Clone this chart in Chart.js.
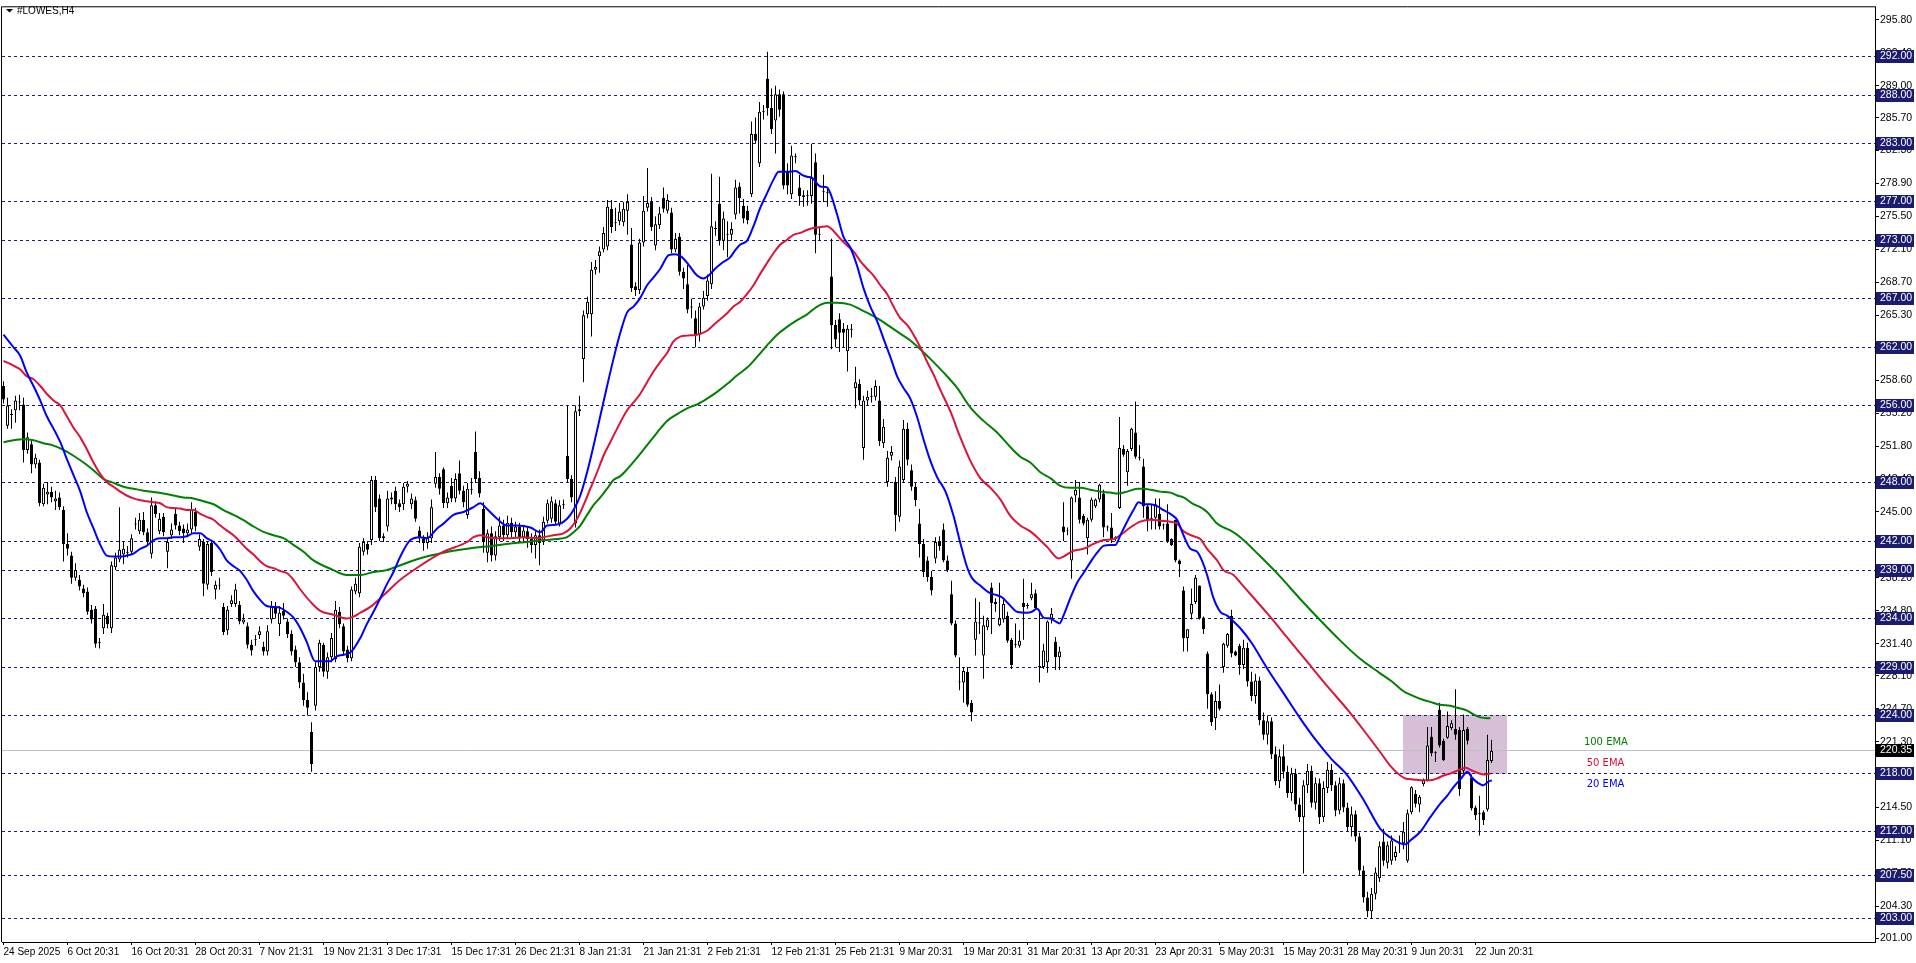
<!DOCTYPE html>
<html>
<head>
<meta charset="utf-8">
<title>#LOWES,H4</title>
<script src="https://cdn.jsdelivr.net/npm/chart.js@4/dist/chart.umd.min.js"></script>
<style>
  html, body { margin: 0; padding: 0; background: #fff; }
  canvas { display: block; }
</style>
</head>
<body>
<canvas id="chart" width="1916" height="963"></canvas>
<script>
'use strict';

// ---- data -----------------------------------------------------------------

const symbolTitle = '#LOWES,H4';

// time axis: one label every 16 H4 bars
const dateTickBars = [ 0, 16, 32, 48, 64, 80, 96, 112, 128, 144, 160, 176, 192, 208, 224, 240, 256, 272, 288, 304, 320, 336, 352, 368 ];
const dateTickLabels = [ '24 Sep 2025', '6 Oct 20:31', '16 Oct 20:31', '28 Oct 20:31', '7 Nov 21:31', '19 Nov 21:31', '3 Dec 17:31',
	'15 Dec 17:31', '26 Dec 21:31', '8 Jan 21:31', '21 Jan 21:31', '2 Feb 21:31', '12 Feb 21:31', '25 Feb 21:31', '9 Mar 20:31',
	'19 Mar 20:31', '31 Mar 20:31', '13 Apr 20:31', '23 Apr 20:31', '5 May 20:31', '15 May 20:31', '28 May 20:31', '9 Jun 20:31', '22 Jun 20:31' ];

// price axis labels
const priceTicks = [ 295.80, 292.40, 289.00, 285.70, 282.30, 278.90, 275.50, 272.10, 268.70, 265.30, 261.90, 258.60, 255.20, 251.80,
	248.40, 245.00, 241.60, 238.20, 234.80, 231.40, 228.10, 224.70, 221.30, 217.90, 214.50, 211.10, 207.70, 204.30, 201.00 ];

// dashed horizontal levels
const levelPrices = [ 292, 288, 283, 277, 273, 267, 262, 256, 248, 242, 239, 234, 229, 224, 218, 212, 207.5, 203 ];
const lastPrice = 220.35;

// OHLC, bar 0 .. 372
const opens = [
	258.0, 253.9, 255.0, 255.5, 256.3, 256.1, 251.4, 252.0, 249.9, 250.1, // 0
	245.8, 246.8, 247.1, 246.1, 246.5, 245.2, 241.7, 240.5, 238.2, 238.0,
	237.1, 236.8, 234.9, 235.0, 231.5, 233.0, 234.3, 233.0, 239.3, 240.1,
	240.6, 240.8, 240.9, 243.7, 243.0, 244.2, 242.9, 240.7, 245.7, 243.0,
	244.5, 240.9, 242.6, 244.8, 243.6, 243.3, 242.8, 243.2, 245.0, 241.4,
	241.9, 237.5, 241.8, 237.0, 237.4, 235.2, 232.8, 235.5, 235.5, 235.4, // 50
	233.6, 233.2, 231.3, 231.8, 232.3, 231.1, 230.6, 233.9, 235.2, 233.4,
	234.8, 233.7, 232.4, 230.8, 229.5, 227.4, 225.6, 222.3, 225.0, 229.0,
	231.3, 228.5, 230.0, 229.8, 234.7, 233.2, 230.8, 229.9, 236.8, 236.6,
	240.9, 241.7, 242.1, 248.3, 246.4, 242.5, 243.5, 246.3, 247.2, 245.9,
	245.8, 247.6, 245.8, 246.2, 243.1, 242.3, 241.8, 242.3, 247.9, 248.6, // 100
	249.4, 245.9, 247.7, 246.4, 249.0, 247.2, 244.7, 247.3, 251.2, 248.5,
	245.3, 240.8, 242.8, 240.5, 242.4, 243.6, 242.6, 243.9, 242.9, 243.5,
	242.4, 243.0, 242.2, 241.6, 242.6, 242.1, 244.1, 244.3, 245.9, 243.8,
	245.7, 250.8, 248.4, 243.8, 255.4, 260.8, 265.4, 265.4, 270.0, 271.4,
	272.1, 272.4, 276.3, 274.8, 275.0, 274.9, 276.1, 272.6, 268.3, 267.9, // 150
	272.8, 276.4, 277.0, 272.5, 274.6, 277.4, 276.1, 275.9, 272.1, 273.4,
	269.8, 268.5, 266.2, 265.0, 263.3, 266.2, 267.3, 268.5, 274.2, 276.8,
	273.0, 273.6, 273.6, 275.7, 278.6, 276.6, 276.1, 277.8, 284.0, 281.0,
	286.3, 289.7, 286.7, 285.4, 288.1, 288.1, 280.2, 277.8, 281.6, 278.5,
	277.7, 277.6, 277.6, 281.1, 273.6, 278.0, 278.0, 269.3, 264.3, 264.9, // 200
	263.9, 261.6, 263.9, 257.8, 258.2, 251.6, 256.5, 256.9, 256.9, 256.5,
	252.1, 248.1, 250.8, 248.1, 244.5, 248.3, 253.6, 249.3, 247.6, 243.8,
	241.7, 240.0, 238.3, 240.2, 242.0, 243.2, 240.0, 236.5, 233.5, 227.5,
	227.4, 228.5, 225.3, 231.8, 233.5, 230.2, 233.1, 237.2, 235.7, 233.3,
	233.9, 234.3, 231.8, 231.3, 231.2, 235.6, 235.3, 236.1, 236.6, 229.1, // 250
	229.0, 229.5, 234.0, 231.6, 230.0, 243.5, 243.0, 240.0, 246.7, 246.5,
	244.6, 242.3, 244.2, 245.6, 246.3, 246.9, 243.5, 243.4, 242.3, 245.4,
	251.5, 249.1, 251.5, 253.2, 250.7, 249.7, 245.6, 244.4, 244.4, 244.8,
	243.7, 243.8, 242.2, 244.2, 240.0, 236.9, 232.0, 234.5, 235.7, 237.4,
	234.1, 230.4, 226.2, 223.7, 225.5, 229.0, 231.2, 234.3, 230.6, 231.2, // 300
	229.2, 231.0, 227.5, 226.0, 227.6, 223.5, 222.0, 223.4, 220.0, 217.2,
	219.8, 218.2, 216.0, 218.0, 214.8, 213.5, 216.8, 218.3, 215.0, 217.0,
	213.5, 216.5, 218.4, 216.8, 214.2, 217.0, 214.5, 212.5, 213.8, 211.5,
	208.0, 205.2, 203.8, 205.6, 207.2, 211.0, 208.8, 209.0, 209.4, 210.7,
	210.8, 209.0, 214.0, 215.9, 214.8, 216.9, 217.3, 221.8, 220.2, 224.6, // 350
	221.4, 221.7, 222.7, 222.6, 222.5, 218.3, 222.6, 217.6, 214.5, 213.8,
	214.0, 214.3, 219.3
];
const highs = [
	258.5, 256.8, 255.6, 257.0, 257.1, 256.8, 253.2, 252.4, 251.0, 250.4, // 0
	247.9, 248.1, 247.6, 247.2, 247.0, 245.6, 242.8, 240.9, 239.7, 238.5,
	237.5, 237.2, 235.4, 235.3, 232.0, 235.5, 234.6, 239.9, 240.8, 245.5,
	242.0, 241.5, 242.7, 244.4, 244.9, 245.0, 243.3, 246.5, 246.1, 244.9,
	244.9, 242.3, 243.8, 245.3, 244.0, 243.7, 243.8, 246.0, 245.4, 242.7,
	242.2, 242.0, 242.1, 237.9, 238.2, 235.6, 235.3, 236.4, 237.6, 235.8, // 50
	234.5, 233.6, 231.8, 232.3, 233.2, 231.6, 233.3, 235.8, 235.7, 235.3,
	235.6, 234.0, 232.8, 231.2, 230.0, 228.3, 226.4, 223.3, 229.5, 231.8,
	231.5, 230.5, 232.5, 235.8, 235.2, 233.5, 231.2, 237.3, 238.2, 241.8,
	242.3, 242.0, 248.7, 248.7, 246.8, 242.8, 247.2, 247.0, 247.6, 246.3,
	248.0, 248.2, 246.9, 246.6, 243.5, 242.6, 242.9, 246.3, 251.2, 249.0, // 100
	249.6, 247.0, 248.5, 249.0, 250.3, 247.7, 248.0, 248.5, 253.3, 249.2,
	246.0, 243.2, 243.5, 243.0, 244.5, 244.2, 244.6, 244.4, 244.0, 243.9,
	243.6, 243.4, 242.8, 243.0, 243.2, 244.5, 246.3, 246.6, 246.3, 246.2,
	246.3, 256.0, 248.8, 256.0, 257.0, 265.8, 267.2, 270.8, 271.0, 272.4,
	274.4, 277.2, 277.2, 276.4, 276.9, 277.0, 277.8, 274.3, 268.7, 273.2, // 150
	277.6, 280.5, 277.5, 275.5, 276.5, 278.5, 277.8, 276.4, 273.8, 273.8,
	270.2, 270.5, 267.0, 265.8, 266.6, 267.8, 269.5, 279.9, 275.0, 279.6,
	276.0, 275.0, 274.9, 279.3, 279.0, 277.3, 276.6, 285.3, 285.7, 287.3,
	287.0, 292.5, 288.7, 289.0, 288.6, 288.4, 281.0, 282.8, 282.0, 279.8,
	278.2, 278.2, 283.0, 282.0, 274.3, 279.8, 278.5, 273.2, 264.8, 265.5, // 200
	264.5, 264.3, 264.4, 260.0, 258.7, 257.0, 257.5, 257.8, 258.6, 258.0,
	254.6, 251.3, 251.8, 248.6, 250.3, 254.5, 254.2, 249.9, 248.0, 245.3,
	242.2, 240.4, 238.9, 242.4, 242.5, 243.8, 240.5, 237.9, 233.8, 230.0,
	229.0, 229.0, 225.6, 236.1, 235.7, 234.3, 234.1, 237.7, 236.1, 237.7,
	236.0, 234.7, 232.0, 233.5, 232.8, 238.1, 235.6, 237.7, 237.0, 234.9, // 250
	231.4, 233.8, 235.1, 232.1, 231.1, 246.0, 243.4, 246.6, 248.3, 248.1,
	244.8, 244.4, 246.5, 246.4, 247.9, 247.3, 243.6, 244.9, 242.5, 254.8,
	251.9, 251.5, 253.7, 256.4, 251.9, 250.5, 245.8, 245.8, 246.4, 246.4,
	243.8, 245.8, 242.3, 244.2, 240.1, 237.3, 232.9, 237.1, 238.5, 237.4,
	234.2, 230.6, 226.4, 226.5, 227.2, 231.5, 232.5, 234.9, 230.7, 231.4, // 300
	231.8, 231.5, 228.5, 228.3, 228.0, 224.3, 224.0, 223.8, 220.8, 220.5,
	221.0, 218.8, 218.6, 218.5, 215.5, 217.3, 219.0, 218.8, 217.6, 217.5,
	217.2, 219.2, 219.0, 217.2, 217.6, 217.4, 215.0, 214.6, 214.2, 211.9,
	208.5, 205.8, 206.2, 208.3, 211.0, 212.3, 211.0, 211.6, 210.5, 211.6,
	213.0, 214.3, 216.7, 216.3, 215.8, 217.5, 222.8, 222.8, 220.3, 225.3, // 350
	221.6, 224.4, 223.5, 226.7, 222.8, 224.1, 222.8, 217.9, 214.7, 215.7,
	214.2, 222.0, 221.5
];
const lows = [
	256.2, 253.6, 253.6, 254.2, 255.5, 250.1, 251.0, 249.0, 249.5, 245.6, // 0
	245.6, 245.8, 246.0, 245.2, 245.2, 239.9, 240.5, 237.6, 237.9, 236.9,
	236.2, 234.4, 233.5, 231.0, 230.9, 232.4, 233.0, 232.5, 239.0, 239.8,
	239.6, 240.3, 240.6, 243.2, 242.7, 242.6, 241.5, 240.2, 244.4, 242.7,
	242.5, 239.2, 242.2, 243.2, 242.6, 241.8, 242.4, 242.8, 243.0, 241.0,
	236.3, 237.0, 238.4, 236.0, 237.0, 232.3, 232.3, 235.2, 235.2, 233.4, // 50
	233.4, 230.9, 230.2, 231.2, 231.9, 230.2, 230.2, 233.5, 234.0, 232.2,
	233.9, 232.0, 230.2, 229.0, 226.8, 225.0, 224.0, 218.2, 224.5, 228.5,
	228.0, 227.8, 229.5, 229.5, 233.0, 230.2, 229.5, 229.6, 236.5, 236.2,
	240.5, 240.6, 241.6, 245.0, 242.0, 241.9, 243.0, 245.8, 245.2, 245.0,
	245.2, 247.0, 245.3, 244.0, 241.8, 241.0, 241.2, 241.8, 247.5, 246.8, // 100
	245.4, 245.4, 246.0, 246.0, 246.8, 245.5, 244.3, 246.8, 248.0, 246.5,
	240.8, 239.8, 239.9, 240.0, 242.0, 242.0, 242.2, 242.4, 242.3, 241.8,
	241.9, 241.3, 240.8, 240.2, 239.5, 241.6, 243.8, 243.9, 243.6, 243.5,
	245.3, 248.0, 246.0, 243.4, 254.9, 258.4, 265.0, 263.1, 269.5, 269.7,
	271.8, 272.0, 273.8, 274.0, 274.6, 274.5, 273.6, 267.7, 267.3, 267.5, // 150
	272.4, 276.0, 274.0, 272.0, 274.2, 275.9, 275.8, 271.7, 271.8, 269.4,
	268.0, 265.5, 265.0, 262.0, 262.6, 265.9, 266.8, 268.0, 273.5, 272.5,
	272.0, 271.3, 273.0, 275.2, 275.8, 274.8, 274.7, 277.5, 283.0, 280.6,
	285.5, 285.9, 284.0, 282.0, 285.8, 278.3, 277.8, 277.3, 281.0, 276.6,
	276.5, 276.6, 276.8, 271.7, 273.0, 277.0, 276.5, 261.8, 262.0, 261.5, // 200
	262.0, 259.5, 263.0, 255.7, 256.0, 250.4, 256.0, 256.3, 256.5, 251.8,
	251.6, 247.6, 250.3, 243.0, 244.0, 248.0, 249.8, 247.2, 245.6, 240.3,
	238.3, 237.8, 236.4, 239.7, 241.0, 239.8, 238.8, 233.3, 230.0, 226.6,
	225.3, 224.9, 223.4, 230.2, 232.4, 227.8, 232.8, 232.4, 234.7, 233.2,
	233.6, 231.5, 228.8, 231.0, 231.0, 231.8, 235.0, 235.9, 235.0, 227.4, // 250
	228.8, 228.4, 233.5, 228.7, 228.7, 242.0, 242.6, 238.1, 246.0, 243.8,
	243.6, 240.6, 244.0, 245.4, 246.0, 242.4, 243.0, 241.8, 242.0, 245.3,
	250.7, 247.7, 251.3, 250.5, 250.3, 244.4, 243.0, 243.2, 243.2, 243.2,
	243.2, 241.8, 241.5, 239.8, 238.3, 230.6, 230.6, 233.9, 235.5, 233.9,
	232.4, 224.7, 222.9, 222.5, 224.5, 228.4, 231.0, 230.0, 230.1, 228.2, // 300
	228.8, 227.0, 225.5, 225.2, 223.0, 221.5, 221.0, 219.5, 216.8, 216.5,
	217.5, 215.5, 215.2, 214.2, 213.0, 207.7, 216.0, 214.5, 214.3, 212.8,
	213.0, 216.0, 216.2, 213.6, 213.8, 214.0, 212.0, 211.5, 211.0, 207.5,
	204.7, 203.2, 203.0, 205.0, 206.8, 208.5, 208.2, 208.6, 209.0, 209.8,
	210.2, 208.8, 213.8, 214.5, 214.0, 216.7, 217.2, 219.8, 219.2, 220.7, // 350
	219.3, 221.6, 222.5, 221.5, 215.7, 218.0, 221.0, 214.2, 213.2, 211.6,
	212.7, 214.1, 219.1
];
const closes = [
	256.6, 256.0, 255.1, 256.5, 256.4, 251.4, 252.7, 249.9, 250.6, 245.9, // 0
	247.5, 247.1, 246.5, 246.4, 245.5, 241.7, 241.2, 238.2, 239.0, 237.3,
	236.6, 234.7, 233.9, 231.4, 231.6, 234.4, 233.4, 239.5, 240.3, 241.1,
	241.2, 240.9, 242.3, 243.8, 244.2, 242.9, 241.9, 245.7, 244.8, 244.3,
	242.9, 241.9, 243.2, 243.6, 243.0, 242.8, 243.2, 245.2, 243.5, 242.2,
	237.6, 241.7, 238.8, 237.5, 237.5, 232.6, 234.9, 235.9, 237.0, 233.7, // 50
	233.9, 231.3, 230.7, 231.9, 232.7, 230.6, 232.7, 235.2, 234.5, 234.6,
	234.3, 232.4, 230.6, 229.5, 227.4, 225.6, 224.8, 219.0, 229.0, 231.5,
	228.5, 230.0, 232.0, 234.9, 233.4, 230.6, 229.9, 237.0, 237.6, 241.4,
	241.9, 241.1, 248.3, 245.5, 242.3, 242.3, 246.4, 246.5, 245.8, 245.5,
	247.6, 247.9, 246.4, 244.3, 242.3, 241.8, 242.4, 245.5, 248.6, 247.4, // 100
	245.9, 246.5, 246.4, 248.4, 247.2, 246.0, 247.4, 247.4, 248.4, 246.9,
	241.9, 242.8, 240.5, 242.5, 243.6, 242.6, 243.9, 242.9, 243.5, 242.4,
	243.1, 242.2, 241.6, 242.6, 241.8, 244.0, 245.9, 246.1, 244.0, 245.7,
	245.8, 248.4, 246.5, 255.4, 255.6, 265.3, 266.7, 270.0, 270.3, 271.9,
	273.8, 276.5, 274.4, 274.9, 276.0, 276.3, 277.0, 268.1, 267.9, 272.8, // 150
	276.1, 276.9, 274.4, 274.7, 275.8, 276.3, 277.2, 272.1, 273.2, 269.8,
	269.1, 265.9, 266.1, 263.3, 266.2, 267.1, 268.9, 274.5, 274.3, 273.0,
	275.3, 273.7, 274.2, 278.5, 277.4, 275.3, 275.1, 284.0, 283.3, 286.3,
	286.4, 286.7, 284.5, 288.1, 286.5, 278.7, 278.7, 281.8, 281.7, 277.6,
	277.5, 277.7, 279.5, 273.6, 273.7, 278.1, 277.9, 264.3, 262.8, 263.5, // 200
	263.5, 263.9, 263.8, 258.4, 256.5, 256.5, 256.9, 257.0, 258.0, 252.3,
	253.8, 250.6, 251.2, 244.7, 249.7, 253.6, 250.4, 247.6, 246.2, 241.7,
	238.8, 238.3, 236.9, 241.9, 241.5, 240.0, 239.0, 233.5, 230.2, 227.4,
	228.6, 225.1, 224.3, 233.7, 233.6, 233.3, 233.9, 235.6, 235.5, 234.0,
	235.5, 231.7, 229.2, 231.4, 231.7, 235.2, 235.4, 236.5, 235.1, 229.0, // 250
	230.7, 233.7, 234.5, 230.0, 230.6, 242.9, 243.1, 246.5, 247.3, 244.2,
	243.8, 244.2, 246.3, 246.3, 247.8, 243.4, 243.4, 242.2, 242.4, 251.6,
	250.9, 251.3, 253.6, 250.7, 250.6, 245.6, 244.2, 244.3, 245.8, 243.5,
	243.6, 242.0, 241.6, 240.0, 239.6, 232.0, 232.9, 235.5, 238.2, 234.0,
	232.9, 226.2, 223.3, 225.5, 224.7, 231.4, 232.4, 230.4, 230.2, 229.2, // 300
	231.0, 227.5, 226.0, 227.6, 223.5, 222.0, 223.4, 220.0, 217.2, 219.8,
	218.2, 216.0, 218.0, 214.8, 213.5, 216.8, 218.3, 215.0, 217.0, 213.5,
	216.5, 218.4, 216.8, 214.2, 217.0, 214.5, 212.5, 213.8, 211.5, 208.0,
	205.2, 203.8, 205.6, 207.8, 210.5, 209.0, 210.6, 211.1, 209.9, 210.8,
	212.0, 213.9, 216.6, 214.9, 215.6, 217.3, 220.9, 220.1, 220.1, 220.9, // 350
	219.4, 222.9, 223.2, 222.0, 216.4, 222.5, 221.4, 214.4, 213.7, 213.9,
	213.2, 219.4, 220.35
];

// moving averages, traced: bar position -> value
const ema20Bars = [ 0, 2.5, 4.2, 5.8, 7.5, 9.2, 10.8, 12.5, 14.2, 15.8, 17.5, 19.2, 20.8, 22.5, 24.2, 25.8, 27.5, 29.2, 30.8, 32.5,
	34.2, 35.8, 37.5, 39.2, 40.8, 42.5, 44.2, 45.8, 47.5, 49.2, 50.8, 52.5, 54.2, 55.8, 57.5, 59.2, 60.8, 62.5, 64.2, 65.8,
	67.5, 69.2, 70.8, 72.5, 74.2, 75.8, 77.9, 81.7, 83.3, 86.7, 89.2, 90.8, 92.5, 94.2, 95.8, 97.5, 99.2, 101.7, 104.2, 105.9,
	108.4, 110, 112.5, 115, 117.5, 119.2, 120.9, 123.4, 125.9, 128.4, 131.7, 134.2, 135.9, 138.4, 140.9, 142.5, 144.2, 145.9, 147.5, 149.2,
	150.9, 152.5, 154.2, 155.9, 157.5, 159.2, 160.9, 162.5, 164.2, 166.3, 168, 169.6, 171.3, 173.4, 175, 176.3, 177.9, 179.6, 181.7, 182.9,
	184.2, 185.9, 187.5, 189.2, 190.9, 192.5, 193.8, 195.9, 198, 199.6, 200.9, 202.1, 204.2, 205.9, 206.7, 208.4, 210, 211.7, 213.4, 215,
	216.7, 218.4, 220, 221.7, 223.4, 225, 226.7, 228.4, 230, 231.7, 233.4, 235.5, 237.5, 239.2, 240.9, 242.1, 244.2, 246.3, 248.4, 249.6,
	251.3, 253.4, 255.9, 257.1, 258.4, 260, 261.7, 263, 264, 265, 266.7, 268.4, 270, 271.7, 273.4, 275, 276.7, 278, 279.2, 280.9,
	282.5, 283.8, 285, 286.7, 288.4, 290, 291.7, 293.4, 295, 296.7, 298.4, 299.6, 300.9, 302.5, 304.2, 305.9, 307.5, 309.2, 312, 316,
	320, 324, 328, 332, 336, 340, 344.2, 346.7, 349.2, 350.5, 351.7, 354.2, 356.7, 359.2, 360.9, 362.5, 364.2, 366, 367.1, 368.4,
	370, 371.3, 372.1 ];
const ema20Values = [ 263.3, 262.0, 261.1, 259.4, 258.0, 256.5, 254.9, 253.6, 252.2, 250.5, 248.8, 247.1, 245.0, 243.3, 241.6, 240.5, 240.4, 240.4, 240.5, 240.7,
	241.2, 241.5, 242.1, 242.3, 242.3, 242.4, 242.4, 242.5, 242.8, 242.8, 242.3, 241.9, 241.1, 240.0, 239.4, 238.9, 238.0, 236.8, 235.9, 235.3,
	235.2, 235.1, 234.7, 234.1, 233.0, 231.6, 229.6, 229.6, 230.1, 230.5, 232.0, 233.4, 234.7, 236.1, 237.5, 238.8, 240.4, 242.1, 242.4, 242.3,
	243.3, 243.8, 244.7, 245.0, 245.5, 245.9, 245.3, 244.3, 243.6, 243.6, 243.4, 242.9, 243.6, 243.7, 244.3, 245.2, 246.7, 249.1, 251.8, 254.9,
	258.0, 260.8, 263.5, 265.6, 266.2, 267.1, 268.4, 269.2, 270.1, 271.5, 271.6, 271.3, 270.5, 269.4, 269.1, 269.4, 270.1, 270.7, 271.3, 272.0,
	272.6, 273.0, 274.5, 276.4, 277.9, 279.3, 280.1, 280.1, 280.2, 279.8, 279.6, 279.5, 278.6, 278.5, 277.9, 275.7, 273.4, 272.3, 270.4, 268.1,
	266.2, 264.7, 262.9, 261.0, 259.0, 257.8, 256.7, 254.8, 252.5, 250.3, 248.6, 247.1, 244.6, 241.8, 239.3, 238.2, 237.4, 236.7, 236.4, 236.2,
	235.5, 234.7, 234.6, 234.7, 235.0, 234.1, 234.0, 233.7, 233.5, 234.3, 236.1, 237.7, 238.7, 239.8, 240.8, 241.5, 241.6, 241.6, 242.6, 244.0,
	245.2, 246.0, 245.8, 245.8, 245.6, 245.2, 244.8, 244.2, 242.6, 241.2, 240.9, 240.0, 238.5, 236.1, 234.7, 234.3, 233.7, 233.0, 231.5, 228.8,
	226.3, 223.8, 221.5, 219.5, 217.8, 215.3, 212.3, 211.4, 210.8, 210.7, 211.1, 212.0, 213.5, 214.9, 215.7, 216.6, 217.4, 218.2, 217.6, 217.1,
	216.8, 217.2, 217.3 ];

const ema50Bars = [ 0, 2.5, 4.2, 5.8, 7.5, 9.2, 10.8, 12.5, 14.2, 15.8, 17.5, 19.2, 20.8, 22.5, 24.2, 25.8, 27.5, 29.2, 30.8, 32.5,
	34.2, 35.8, 37.5, 39.2, 40.8, 42.5, 44.2, 45.8, 47.5, 49.2, 50.8, 52.5, 54.2, 55.8, 57.5, 59.2, 60.8, 62.5, 64.2, 65.8,
	67.5, 69.2, 70.8, 72.5, 74.2, 77.5, 79.2, 82.5, 85.8, 87.5, 89.2, 91.7, 95, 99.2, 104, 110, 115.9, 117.5, 119.2, 120.9,
	123.4, 126.7, 130, 133.4, 135, 137.5, 140, 141.7, 143.4, 145, 146.7, 148.4, 150, 151.7, 153.4, 155.9, 157.5, 159.2, 160.9, 162.5,
	164.2, 165.9, 167.5, 169.2, 170.9, 173.4, 175.9, 177.5, 179.2, 180.9, 182.5, 184.2, 185.9, 187.5, 189.2, 190.9, 192.5, 194.2, 195.9, 197.5,
	199.2, 200.9, 202.5, 204.2, 205.9, 207.5, 209.2, 210.9, 212.5, 214.2, 215.9, 217.5, 219.2, 220.9, 222.5, 224.2, 225.9, 227.5, 229.2, 230.9,
	232.5, 234.2, 236.7, 239.2, 241.7, 244.2, 246.7, 249.2, 251.7, 254.2, 256.7, 258.4, 260.9, 263.8, 265, 267.5, 270, 272.5, 275, 277.5,
	279.2, 281.7, 284.2, 286.7, 289.2, 291.7, 293.4, 295, 297.5, 299.2, 300.9, 303.4, 305, 307.5, 309.2, 316, 321, 326, 331, 336,
	340, 344.2, 346.7, 349.2, 350.5, 352.5, 355, 356.7, 358.4, 360, 361.7, 363.4, 365.5, 366.7, 368.4, 370, 371.7 ];
const ema50Values = [ 260.6, 260.1, 259.7, 259.0, 258.7, 258.0, 257.2, 256.5, 256.0, 254.9, 253.7, 252.7, 251.5, 250.1, 248.9, 248.1, 247.6, 247.1, 246.7, 246.4,
	246.2, 246.1, 246.0, 245.9, 245.5, 245.4, 245.35, 245.2, 245.2, 244.8, 244.5, 244.2, 243.6, 243.1, 242.6, 241.9, 241.2, 240.6, 239.9, 239.4,
	239.2, 238.9, 238.7, 238.0, 237.0, 235.4, 234.8, 234.4, 234.0, 234.2, 234.6, 235.2, 236.4, 238.0, 239.4, 240.9, 241.9, 242.4, 242.6, 242.4,
	242.3, 242.3, 242.4, 242.3, 242.4, 242.6, 242.8, 243.3, 244.3, 245.7, 247.4, 249.1, 250.8, 252.2, 253.6, 255.5, 256.3, 257.2, 258.4, 259.5,
	260.5, 261.4, 262.6, 263.1, 263.2, 263.3, 263.7, 264.3, 264.9, 265.5, 266.2, 266.7, 267.5, 268.4, 269.6, 270.7, 271.7, 272.6, 273.1, 273.6,
	273.8, 274.1, 274.3, 274.4, 274.5, 274.0, 273.2, 272.5, 271.9, 270.9, 270.1, 269.4, 268.4, 267.5, 266.2, 265.0, 264.3, 263.3, 262.0, 260.5,
	259.2, 257.6, 255.4, 252.7, 250.3, 248.5, 247.5, 246.3, 244.6, 243.6, 243.0, 242.4, 241.4, 240.2, 240.4, 241.0, 241.2, 241.7, 242.1, 242.2,
	242.6, 243.4, 244.0, 244.2, 244.1, 244.0, 243.8, 243.0, 242.5, 242.2, 241.2, 240.0, 239.0, 238.5, 237.7, 234.5, 232.0, 229.5, 227.0, 224.6,
	222.5, 220.2, 218.8, 217.8, 217.5, 217.4, 217.3, 217.3, 217.5, 217.8, 218.0, 218.3, 218.6, 218.4, 218.1, 217.9, 218.0 ];

const ema100Bars = [ 0, 2.5, 5, 7.5, 10, 12.5, 15, 17.5, 20, 22.5, 25, 27.5, 30, 32.5, 35, 37.5, 40, 42.5, 45, 47.5,
	50, 52.5, 55, 57.5, 60, 62.5, 65, 67.5, 70, 72.5, 75, 77.5, 82.5, 85.8, 89.2, 92.5, 95.8, 99.2, 104, 110,
	116, 122, 128, 130.9, 135, 138.4, 140.9, 142.5, 144.2, 145.9, 147.5, 149.2, 150.9, 152.5, 154.2, 155.9, 158.4, 160.9, 163.4, 165.9,
	168.4, 170.9, 173.4, 175.9, 178.4, 180.9, 183.4, 185.9, 188.4, 190.9, 193.4, 195.9, 198.4, 200.9, 203.4, 205.9, 208.4, 211.7, 214.2, 216.7,
	219.2, 221.7, 224.2, 226.7, 229.2, 231.7, 235, 238.4, 241.7, 245, 248.4, 251.7, 254.2, 256.7, 259.2, 261.7, 264.2, 266.7, 269.2, 271.7,
	274.2, 276.7, 278.4, 280.9, 283.4, 285, 286.7, 289.2, 291.7, 293.4, 295, 297.5, 299.2, 300.9, 303.4, 305, 306.7, 309.2, 314, 319,
	324, 329, 334, 339, 344, 347.1, 350, 352.5, 355, 356.7, 359.2, 361.7, 363.4, 365.9, 367.5, 369.2, 371.7 ];
const ema100Values = [ 252.2, 252.4, 252.5, 252.4, 252.1, 251.85, 251.4, 250.8, 250.1, 249.3, 248.4, 248.0, 247.6, 247.4, 247.2, 247.06, 246.9, 246.7, 246.5, 246.4,
	246.1, 245.8, 245.2, 244.7, 244.15, 243.5, 242.95, 242.6, 242.3, 241.6, 240.9, 240.0, 239.0, 238.5, 238.5, 238.8, 239.0, 239.5, 240.2, 240.8,
	241.2, 241.5, 241.8, 241.9, 242.1, 242.2, 242.4, 242.9, 243.6, 244.7, 245.7, 246.5, 247.4, 248.3, 248.7, 249.4, 250.6, 251.9, 253.2, 254.4,
	255.1, 255.7, 256.1, 256.7, 257.4, 258.2, 259.1, 259.9, 261.0, 262.2, 263.3, 264.1, 264.8, 265.4, 266.2, 266.6, 266.6, 266.4, 265.9, 265.4,
	264.8, 264.1, 263.4, 262.7, 261.8, 260.8, 259.4, 257.8, 255.8, 254.4, 253.2, 251.7, 250.7, 250.1, 249.1, 248.5, 247.7, 247.5, 247.5, 247.3,
	247.1, 247.0, 246.9, 247.1, 247.4, 247.4, 247.3, 247.1, 247.0, 246.7, 246.5, 245.8, 245.5, 245.0, 243.8, 243.4, 243.1, 242.4, 240.5, 238.4,
	236.1, 233.9, 231.8, 229.9, 228.4, 227.5, 226.5, 226.0, 225.6, 225.4, 225.1, 225.0, 224.8, 224.5, 224.1, 223.8, 223.7 ];

// text objects on the chart, anchored at bar / price
const emaTagTexts = [ '100 EMA', '50 EMA', '20 EMA' ];
const emaTagBars = [ 395.1, 395.8, 395.8 ];
const emaTagPrices = [ 221.2, 219.05, 216.85 ];

// shaded consolidation box
const zoneBars = [ 349.9, 375.9 ];
const zonePrices = [ 218, 224 ];

// ---- drawing ---------------------------------------------------------------

const FONT = '"Liberation Sans", Arial, sans-serif';
const NAVY = '#1b1b6f';
const C20 = '#0000ff', C50 = '#dc143c', C100 = '#008000';

const bodyData = closes.map( ( c, i ) => ( { x: i, y: [ opens[ i ], c ] } ) );
const wickData = closes.map( ( c, i ) => ( { x: i, y: [ lows[ i ], highs[ i ] ] } ) );
const bodyFill = closes.map( ( c, i ) => ( c > opens[ i ] ? '#ffffff' : '#000000' ) );
const pts = ( xs, ys ) => xs.map( ( b, k ) => ( { x: b, y: ys[ k ] } ) );

const emaLine = ( data, color, order ) => ( {
	type: 'line', data, borderColor: color, borderWidth: 2, pointRadius: 0,
	cubicInterpolationMode: 'monotone', order,
} );

const mtChrome = {
	id: 'mtChrome',
	beforeDatasetsDraw( chart ) {
		const { ctx, chartArea: a, scales: { x, y } } = chart;
		ctx.save();
		ctx.beginPath();
		ctx.rect( a.left, a.top, a.right - a.left, a.bottom - a.top );
		ctx.clip();

		// box drawn as background
		const zx1 = Math.round( x.getPixelForValue( zoneBars[ 0 ] ) );
		const zx2 = Math.round( x.getPixelForValue( zoneBars[ 1 ] ) );
		const zy1 = Math.round( y.getPixelForValue( zonePrices[ 1 ] ) );
		const zy2 = Math.round( y.getPixelForValue( zonePrices[ 0 ] ) );
		ctx.fillStyle = '#d8bfd8';
		ctx.fillRect( zx1, zy1, zx2 - zx1, zy2 - zy1 );

		// dashed levels
		ctx.strokeStyle = NAVY;
		ctx.lineWidth = 1;
		ctx.setLineDash( [ 3, 3 ] );
		levelPrices.forEach( ( p ) => {
			const py = Math.floor( y.getPixelForValue( p ) ) + 0.5;
			ctx.beginPath();
			ctx.moveTo( a.left, py );
			ctx.lineTo( a.right, py );
			ctx.stroke();
		} );

		// bid line
		ctx.setLineDash( [] );
		ctx.strokeStyle = '#c0c0c0';
		const by = Math.floor( y.getPixelForValue( lastPrice ) ) + 0.5;
		ctx.beginPath();
		ctx.moveTo( a.left, by );
		ctx.lineTo( a.right, by );
		ctx.stroke();
		ctx.restore();
	},
	afterDatasetsDraw( chart ) {
		const { ctx, scales: { x, y } } = chart;
		const colors = [ C100, C50, C20 ];
		ctx.save();
		ctx.font = '10px "DejaVu Sans", ' + FONT;
		ctx.textBaseline = 'middle';
		ctx.textAlign = 'left';
		emaTagTexts.forEach( ( t, k ) => {
			ctx.fillStyle = colors[ k ];
			ctx.fillText( t, x.getPixelForValue( emaTagBars[ k ] ), y.getPixelForValue( emaTagPrices[ k ] ) );
		} );
		ctx.restore();
	},
	afterDraw( chart ) {
		const { ctx, chartArea: a, scales: { y } } = chart;
		ctx.save();

		// frame: left and top edges (right / bottom come from the axes)
		ctx.strokeStyle = '#000';
		ctx.lineWidth = 1;
		ctx.beginPath();
		ctx.moveTo( a.left - 0.5, a.bottom );
		ctx.lineTo( a.left - 0.5, a.top - 0.5 );
		ctx.lineTo( a.right + 1, a.top - 0.5 );
		ctx.stroke();

		// symbol caption
		ctx.fillStyle = '#000';
		ctx.beginPath();
		ctx.moveTo( 6, 9 );
		ctx.lineTo( 13, 9 );
		ctx.lineTo( 9.5, 12.5 );
		ctx.closePath();
		ctx.fill();
		ctx.font = '10px ' + FONT;
		ctx.textBaseline = 'middle';
		ctx.fillText( symbolTitle, 17, 11 );

		// price tags on the axis
		const tag = ( p, bg, text ) => {
			const py = Math.floor( y.getPixelForValue( p ) );
			ctx.fillStyle = bg;
			ctx.fillRect( a.right + 1, py - 6, 38, 13 );
			ctx.fillStyle = '#fff';
			ctx.fillText( text, a.right + 5, py + 0.5 );
		};
		ctx.font = '10.5px ' + FONT;
		levelPrices.forEach( ( p ) => tag( p, NAVY, p.toFixed( 2 ) ) );
		tag( lastPrice, '#000', lastPrice.toFixed( 2 ) );
		ctx.restore();
	},
};

new Chart( document.getElementById( 'chart' ), {
	data: {
		datasets: [
			emaLine( pts( ema20Bars, ema20Values ), C20, 0 ),
			emaLine( pts( ema50Bars, ema50Values ), C50, 1 ),
			emaLine( pts( ema100Bars, ema100Values ), C100, 2 ),
			{
				type: 'bar', data: bodyData, backgroundColor: bodyFill, borderColor: '#000', borderWidth: 1,
				borderSkipped: false, barThickness: 3, grouped: false, inflateAmount: 0, order: 3,
			},
			{
				type: 'bar', data: wickData, backgroundColor: '#000', borderWidth: 0,
				barThickness: 1, grouped: false, inflateAmount: 0, order: 4,
			},
		],
	},
	options: {
		responsive: false,
		animation: false,
		devicePixelRatio: 1,
		events: [],
		layout: { padding: { left: 2, top: 3, right: 0, bottom: 0 } },
		plugins: { legend: { display: false }, tooltip: { enabled: false } },
		scales: {
			x: {
				type: 'linear',
				offset: false,
				min: -0.375,
				max: 467.875,
				afterBuildTicks: ( s ) => { s.ticks = dateTickBars.map( ( v ) => ( { value: v } ) ); },
				afterFit: ( s ) => { s.height = 21; },
				grid: { offset: false, drawOnChartArea: false, drawTicks: true, tickLength: 3, tickColor: '#000' },
				border: { display: true, color: '#000' },
				ticks: {
					autoSkip: false, maxRotation: 0, minRotation: 0, align: 'start', padding: 1, color: '#000',
					font: { family: FONT, size: 10 },
					callback: ( v, i ) => dateTickLabels[ i ],
				},
			},
			y: {
				position: 'right',
				min: 200.619,
				max: 297.085,
				afterBuildTicks: ( s ) => { s.ticks = priceTicks.map( ( v ) => ( { value: v } ) ); },
				afterFit: ( s ) => { s.width = 41; },
				grid: { drawOnChartArea: false, drawTicks: true, tickLength: 4, tickColor: '#000' },
				border: { display: true, color: '#000' },
				ticks: {
					padding: 1, color: '#000',
					font: { family: FONT, size: 10.5 },
					callback: ( v ) => Number( v ).toFixed( 2 ),
				},
			},
		},
	},
	plugins: [ mtChrome ],
} );
</script>
</body>
</html>
